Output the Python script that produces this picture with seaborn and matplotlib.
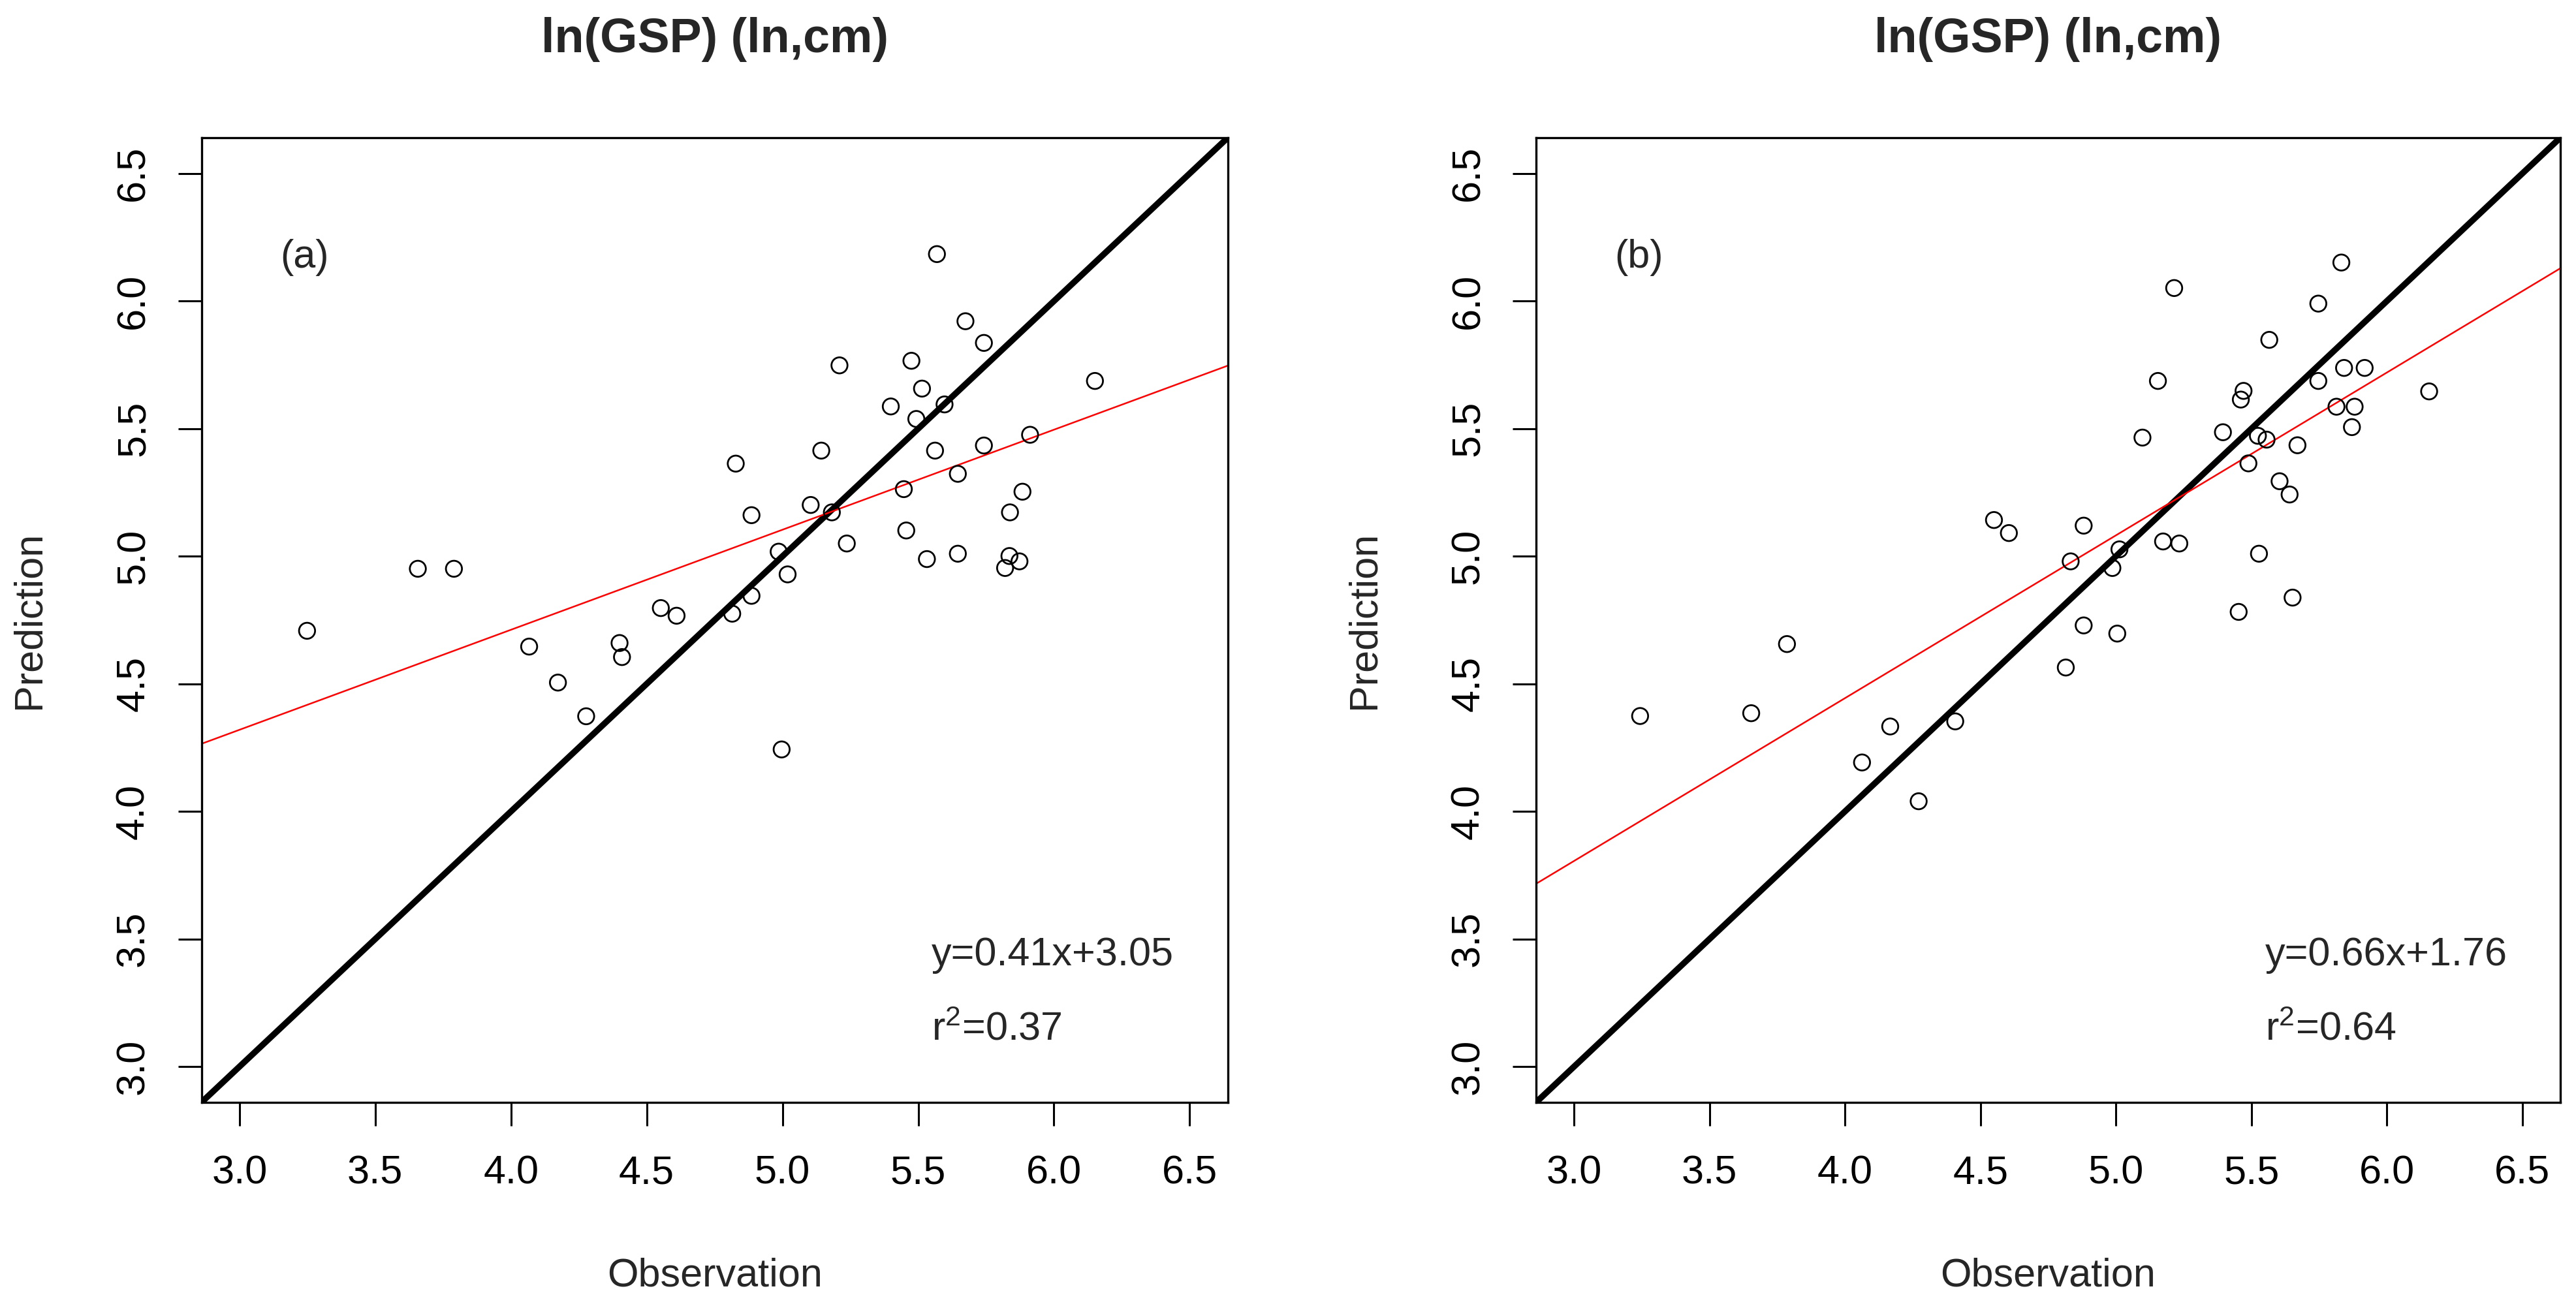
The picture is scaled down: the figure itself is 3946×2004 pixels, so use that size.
import numpy as np
import pandas as pd
import matplotlib
matplotlib.use("Agg")
import matplotlib.pyplot as plt
import seaborn as sns

# panel (a): observed vs predicted ln(GSP)
obs_a = [3.249, 3.657, 3.790, 4.067, 4.173, 4.277, 4.400, 4.409, 4.552, 4.610,
         4.815, 4.886, 4.828, 4.886, 4.986, 5.019, 4.997, 5.104, 5.143, 5.182,
         5.210, 5.237, 5.399, 5.447, 5.456, 5.475, 5.493, 5.514, 5.532, 5.569,
         5.562, 5.597, 5.646, 5.646, 5.674, 5.742, 5.742, 5.836, 5.873, 5.820,
         5.838, 5.884, 5.912, 6.151]
pred_a = [4.708, 4.951, 4.951, 4.646, 4.505, 4.373, 4.660, 4.605, 4.797, 4.767,
          4.775, 4.845, 5.363, 5.161, 5.018, 4.929, 4.243, 5.201, 5.414, 5.172,
          5.748, 5.050, 5.587, 5.263, 5.101, 5.766, 5.538, 5.657, 4.989, 6.184,
          5.414, 5.595, 5.323, 5.010, 5.921, 5.836, 5.434, 5.001, 4.980, 4.954,
          5.172, 5.253, 5.476, 5.687]

# panel (b)
obs_b = [3.244, 3.654, 3.786, 4.063, 4.167, 4.272, 4.407, 4.550, 4.605, 4.881,
         4.833, 5.013, 4.987, 5.174, 5.234, 4.881, 5.005, 4.815, 5.098, 5.832,
         5.215, 5.747, 5.566, 5.155, 5.471, 5.461, 5.842, 5.918, 5.747, 6.156,
         5.814, 5.881, 5.871, 5.395, 5.524, 5.556, 5.670, 5.489, 5.604, 5.641,
         5.528, 5.652, 5.453]
pred_b = [4.374, 4.385, 4.656, 4.192, 4.333, 4.040, 4.353, 5.142, 5.091, 5.120,
          4.980, 5.027, 4.954, 5.058, 5.050, 4.729, 4.697, 4.564, 5.465, 6.151,
          6.051, 5.990, 5.848, 5.687, 5.648, 5.614, 5.738, 5.738, 5.687, 5.646,
          5.586, 5.586, 5.506, 5.486, 5.472, 5.457, 5.435, 5.364, 5.294, 5.242,
          5.010, 4.838, 4.782]

# red fitted lines as drawn (slope, intercept)
fit_a = (0.392, 3.144)
fit_b = (0.638, 1.892)

panel_tags = ["(a)", "(b)"]
eq_texts = ["y=0.41x+3.05", "y=0.66x+1.76"]
r2_texts = [r"r$^{2}$=0.37", r"r$^{2}$=0.64"]
title = "ln(GSP) (ln,cm)"
ticks = [3.0, 3.5, 4.0, 4.5, 5.0, 5.5, 6.0, 6.5]

sns.set_theme(style="ticks")
plt.rcParams["font.family"] = ["Liberation Sans", "DejaVu Sans"]
plt.rcParams["mathtext.fontset"] = "custom"
plt.rcParams["mathtext.rm"] = "Liberation Sans"
plt.rcParams["mathtext.default"] = "regular"

fs = 22
fig = plt.figure(figsize=(19.73, 10.02), dpi=200)
ax_a = fig.add_axes([0.0782, 0.1572, 0.3984, 0.7375])
ax_b = fig.add_axes([0.5963, 0.1572, 0.3976, 0.7375])

panels = [(ax_a, obs_a, pred_a, fit_a), (ax_b, obs_b, pred_b, fit_b)]
for i, (ax, ob, pr, fit) in enumerate(panels):
    df = pd.DataFrame({"Observation": ob, "Prediction": pr})
    ax.axline((3.0, 3.0), slope=1.0, color="black", lw=3.4, zorder=2)
    ax.axline((0.0, fit[1]), slope=fit[0], color="red", lw=0.9, zorder=2)
    sns.scatterplot(data=df, x="Observation", y="Prediction", ax=ax,
                    marker="o", s=78, facecolor="none", edgecolor="black",
                    linewidth=1.0, zorder=3)
    ax.set_xlim(2.86, 6.64)
    ax.set_ylim(2.86, 6.64)
    ax.set_xticks(ticks)
    ax.set_yticks(ticks)
    ax.set_xticklabels([f"{t:.1f}" for t in ticks])
    ax.set_yticklabels([f"{t:.1f}" for t in ticks], rotation=90, va="center")
    ax.tick_params(axis="both", direction="out", length=13, width=1.1,
                   labelsize=fs, colors="black")
    ax.tick_params(axis="x", pad=16)
    ax.tick_params(axis="y", pad=14)
    for sp in ax.spines.values():
        sp.set_visible(True)
        sp.set_linewidth(1.2)
        sp.set_color("black")
    ax.set_xlabel("Observation", fontsize=fs, labelpad=36)
    ax.set_ylabel("Prediction", fontsize=fs, labelpad=37)
    ax.set_title(title, fontsize=26.5, fontweight="bold", pad=47)
    ax.text(3.15, 6.13, panel_tags[i], fontsize=fs, ha="left", va="baseline")
    ax.text(5.55, 3.398, eq_texts[i], fontsize=fs, ha="left", va="baseline")
    ax.text(5.55, 3.104, r2_texts[i], fontsize=fs, ha="left", va="baseline")

fig.savefig("out.png", dpi=200, facecolor="white")
